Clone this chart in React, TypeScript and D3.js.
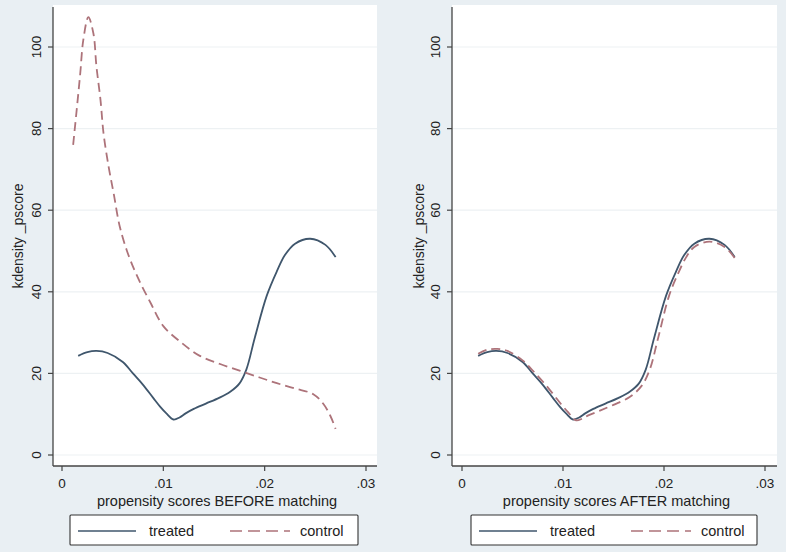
import React from "react";
import * as d3 from "d3";

const treatedX = [0.0016, 0.0025, 0.0034, 0.0045, 0.006, 0.007, 0.008, 0.009, 0.0097, 0.0103, 0.011, 0.0116, 0.0122, 0.013, 0.0142, 0.0155, 0.0166, 0.0175, 0.0182, 0.019, 0.0202, 0.0212, 0.022, 0.023, 0.0245, 0.026, 0.027];
const treatedY = [24.3, 25.2, 25.5, 25, 22.8, 20, 17.2, 14, 11.8, 10.2, 8.7, 9.2, 10.2, 11.3, 12.6, 14, 15.5, 17.5, 21, 28.5, 39, 45, 49, 51.8, 53, 51.5, 48.5];

const controlBeforeX = [0.0011, 0.00145, 0.0018, 0.0021, 0.0026, 0.0031, 0.0034, 0.0038, 0.0041, 0.0046, 0.0051, 0.0057, 0.0065, 0.0075, 0.0088, 0.01, 0.0118, 0.0136, 0.0156, 0.0176, 0.0195, 0.0212, 0.023, 0.0248, 0.0258, 0.0265, 0.027];
const controlBeforeY = [76, 84.6, 93.5, 101.7, 107.3, 103.3, 95.2, 87, 78.8, 70.7, 64.1, 56, 49.4, 43.4, 37, 31.6, 27.5, 24.3, 22.3, 20.6, 19, 17.6, 16.3, 14.9, 12.5, 9.5, 6.4];

const controlAfterX = [0.0016, 0.0025, 0.0035, 0.0045, 0.006, 0.007, 0.008, 0.009, 0.0098, 0.0105, 0.0113, 0.0119, 0.0125, 0.0136, 0.015, 0.0166, 0.0178, 0.0186, 0.0194, 0.0205, 0.0214, 0.0222, 0.023, 0.0245, 0.026, 0.027];
const controlAfterY = [24.8, 25.8, 26, 25.5, 23.2, 20.7, 18, 15, 12.5, 10.5, 8.5, 8.9, 9.7, 10.8, 12.3, 14.2, 17, 21, 28.5, 39, 44.5, 48.5, 51, 52.3, 51, 48.3];

const yTicks = [0, 20, 40, 60, 80, 100];
const xTicks = [0, 0.01, 0.02, 0.03];
const xTickLabels = ["0", ".01", ".02", ".03"];
const panelTitles = ["propensity scores BEFORE matching", "propensity scores AFTER matching"];
const legendLabels = ["treated", "control"];
const yTitle = "kdensity _pscore";

const W = 786;
const H = 552;
const BG = "#e9eff3";
const TREATED = "#3f566c";
const CONTROL = "#ad737a";
const FONT = "Liberation Sans, Arial, sans-serif";

const zip = (xs: number[], ys: number[]) => xs.map((x, i) => [x, ys[i]] as [number, number]);

type PanelProps = {
  plotLeft: number;
  plotRight: number;
  x0: number;
  x3: number;
  title: string;
  control: [number, number][];
  legendL: number;
  legendR: number;
  yTickX: number;
  yTitleX: number;
};

function Panel(p: PanelProps) {
  const plotTop = 5;
  const plotBottom = 466;
  const x = d3.scaleLinear().domain([0, 0.03]).range([p.x0, p.x3]);
  const y = d3.scaleLinear().domain([0, 100]).range([455, 47]);
  const line = d3
    .line<[number, number]>()
    .x((d) => x(d[0]))
    .y((d) => y(d[1]))
    .curve(d3.curveCatmullRom.alpha(0.5));
  const treated = zip(treatedX, treatedY);
  const lw = p.legendR - p.legendL;
  const midY = 531;
  return (
    <g>
      <rect x={p.plotLeft} y={plotTop} width={p.plotRight - p.plotLeft} height={plotBottom - plotTop} fill="#ffffff" />
      {yTicks.map((t) => (
        <line key={"g" + t} x1={p.plotLeft} x2={p.plotRight} y1={y(t)} y2={y(t)} stroke="#edf1f3" strokeWidth={1.2} />
      ))}
      <path d={line(treated) || ""} fill="none" stroke={TREATED} strokeWidth={1.8} />
      <path d={line(p.control) || ""} fill="none" stroke={CONTROL} strokeWidth={1.8} strokeDasharray="9,5" />
      <line x1={p.plotLeft} x2={p.plotLeft} y1={plotTop + 2} y2={plotBottom} stroke="#444" strokeWidth={1.3} />
      {yTicks.map((t) => (
        <g key={"y" + t}>
          <line x1={p.plotLeft - 5} x2={p.plotLeft} y1={y(t)} y2={y(t)} stroke="#444" strokeWidth={1.2} />
          <text
            transform={`translate(${p.yTickX},${y(t)}) rotate(-90)`}
            textAnchor="middle"
            dy="0.35em"
            fontSize={13.5}
            fontFamily={FONT}
            fill="#222"
          >
            {t}
          </text>
        </g>
      ))}
      <text
        transform={`translate(${p.yTitleX},236) rotate(-90)`}
        textAnchor="middle"
        dy="0.35em"
        fontSize={14}
        fontFamily={FONT}
        fill="#222"
      >
        {yTitle}
      </text>
      <line x1={p.plotLeft} x2={p.plotRight} y1={plotBottom} y2={plotBottom} stroke="#444" strokeWidth={1.3} />
      {xTicks.map((t, i) => (
        <g key={"x" + t}>
          <line x1={x(t)} x2={x(t)} y1={plotBottom} y2={plotBottom + 5} stroke="#444" strokeWidth={1.2} />
          <text x={x(t)} y={488} textAnchor="middle" fontSize={13.5} fontFamily={FONT} fill="#222">
            {xTickLabels[i]}
          </text>
        </g>
      ))}
      <text x={(p.plotLeft + p.plotRight) / 2 + 2} y={506} textAnchor="middle" fontSize={14.5} fontFamily={FONT} fill="#222">
        {p.title}
      </text>
      <rect x={p.legendL} y={515} width={lw} height={30} fill="#ffffff" stroke="#333" strokeWidth={1.1} rx={1} />
      <line x1={p.legendL + 8} x2={p.legendL + 66} y1={midY} y2={midY} stroke={TREATED} strokeWidth={1.6} />
      <text x={p.legendL + 79} y={536} fontSize={14.5} fontFamily={FONT} fill="#222">
        {legendLabels[0]}
      </text>
      <line x1={p.legendL + 160} x2={p.legendL + 220} y1={midY} y2={midY} stroke={CONTROL} strokeWidth={1.6} strokeDasharray="12,6" />
      <text x={p.legendL + 230} y={536} fontSize={14.5} fontFamily={FONT} fill="#222">
        {legendLabels[1]}
      </text>
    </g>
  );
}

export default function App() {
  return (
    <svg width={W} height={H} style={{ display: "block", position: "absolute", left: 0, top: 0 }}>
      <rect x={0} y={0} width={W} height={H} fill={BG} />
      <Panel
        plotLeft={53}
        plotRight={377}
        x0={62}
        x3={366}
        title={panelTitles[0]}
        control={zip(controlBeforeX, controlBeforeY)}
        legendL={70}
        legendR={358}
        yTickX={36}
        yTitleX={18}
      />
      <Panel
        plotLeft={452}
        plotRight={777}
        x0={462}
        x3={765}
        title={panelTitles[1]}
        control={zip(controlAfterX, controlAfterY)}
        legendL={471}
        legendR={757}
        yTickX={435}
        yTitleX={419}
      />
    </svg>
  );
}
